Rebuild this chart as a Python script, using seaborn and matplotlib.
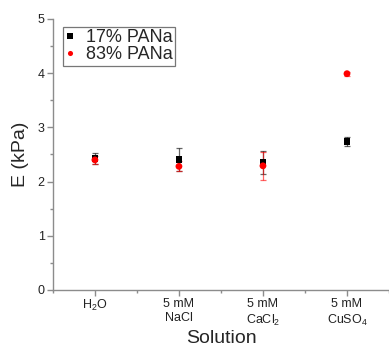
import numpy as np
import pandas as pd
import matplotlib
matplotlib.use("Agg")
import matplotlib.pyplot as plt
import seaborn as sns
from matplotlib.ticker import MultipleLocator, FixedLocator

solutions = ["H$_2$O", "5 mM\nNaCl", "5 mM\nCaCl$_2$", "5 mM\nCuSO$_4$"]
e_17 = [2.43, 2.40, 2.35, 2.74]
err_17 = [0.10, 0.21, 0.22, 0.09]
e_83 = [2.40, 2.28, 2.29, 3.99]
err_83 = [0.08, 0.09, 0.26, 0.04]
series = ["17% PANa", "83% PANa"]

sns.set_style("ticks")
plt.rcParams["font.family"] = ["Liberation Sans", "DejaVu Sans"]
plt.rcParams["mathtext.default"] = "regular"

df = pd.DataFrame({
    "Solution": solutions * 2,
    "E": e_17 + e_83,
    "err": err_17 + err_83,
    "sample": [series[0]] * 4 + [series[1]] * 4,
})

fig = plt.figure(figsize=(3.89, 3.51), dpi=100)
ax = fig.add_axes([0.136, 0.174, 0.864, 0.772])

colors = {series[0]: "black", series[1]: "red"}
markers = {series[0]: "s", series[1]: "o"}

for name, grp in df.groupby("sample"):
    ax.errorbar(grp["Solution"], grp["E"], yerr=grp["err"], fmt="none",
                ecolor=colors[name], elinewidth=0.9, capsize=2.5, capthick=0.9,
                alpha=0.6, zorder=2)

sns.scatterplot(data=df, x="Solution", y="E", hue="sample", style="sample",
                palette=colors, markers=markers, s=24, linewidth=0,
                ax=ax, zorder=3)

ax.set_xlim(-0.5, 3.5)
ax.set_ylim(0, 5)
ax.yaxis.set_major_locator(MultipleLocator(1))
ax.yaxis.set_minor_locator(MultipleLocator(0.5))
ax.xaxis.set_minor_locator(FixedLocator([-0.5, 0.5, 1.5, 2.5, 3.5]))

sns.despine(ax=ax)
grey = "#8c8c8c"
for s in ["left", "bottom"]:
    ax.spines[s].set_color(grey)
    ax.spines[s].set_linewidth(1.0)
ax.tick_params(axis="both", which="major", length=4, width=1.0, color=grey,
               labelsize=9, labelcolor="#222222", pad=2)
ax.tick_params(axis="both", which="minor", length=2.5, width=1.0, color=grey)

ax.set_xlabel("Solution", fontsize=14, labelpad=2)
ax.set_ylabel("E (kPa)", fontsize=14, labelpad=6)

leg = ax.legend(loc="upper left", bbox_to_anchor=(0.02, 0.985), fontsize=13,
                frameon=True, fancybox=False, edgecolor="#555555",
                handlelength=0.5, handletextpad=0.6, labelspacing=0.0,
                borderpad=0.15, borderaxespad=0.2, markerscale=0.75)
leg.get_frame().set_linewidth(0.9)

fig.savefig("out.png", dpi=100)
